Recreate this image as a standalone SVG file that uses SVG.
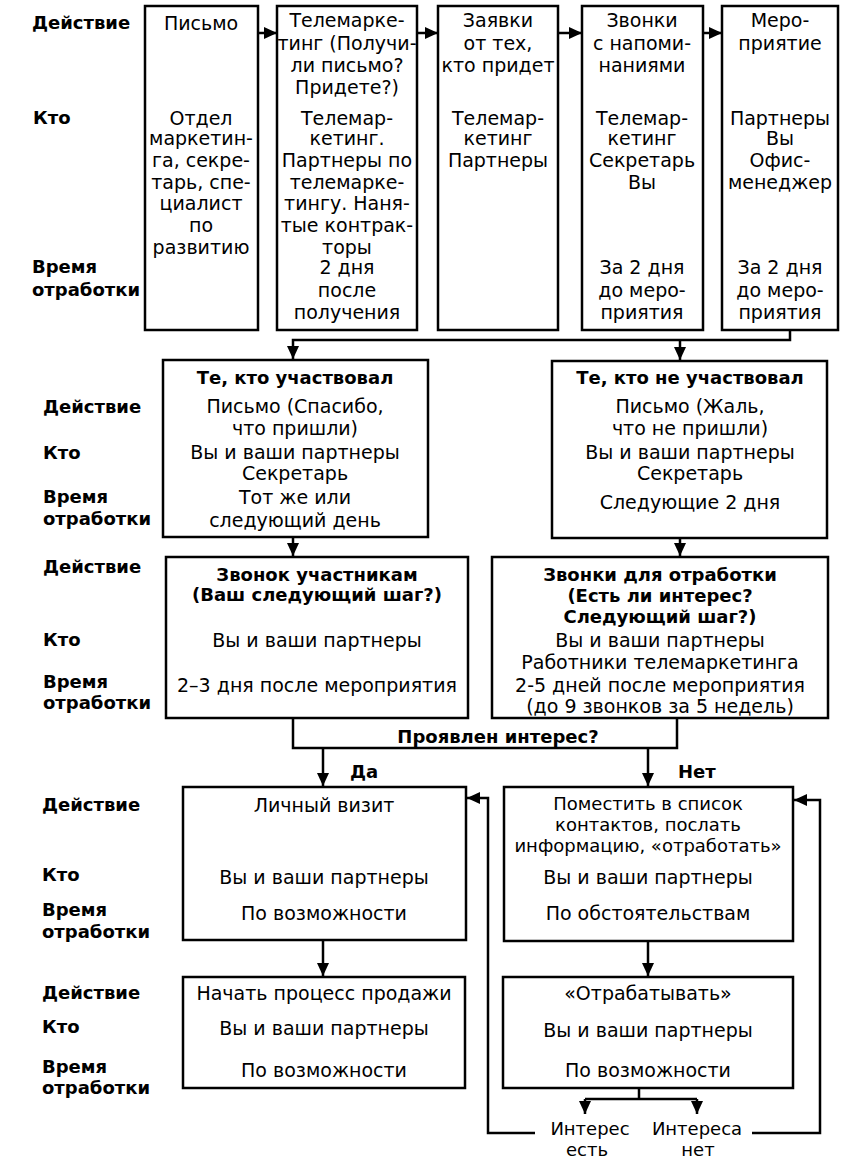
<svg xmlns="http://www.w3.org/2000/svg" width="841" height="1158" viewBox="0 0 841 1158">
<style>
text{font-family:"DejaVu Sans","Liberation Sans",sans-serif;fill:#000}
.t{font-size:19px;text-anchor:middle}
.s{font-size:18px;text-anchor:middle}
.b{font-size:18px;font-weight:bold;text-anchor:middle}
.l{font-size:18px;font-weight:bold}
.n{font-size:18px;font-weight:bold}
rect{fill:#fff;stroke:#000;stroke-width:2.5}
.c path{fill:none;stroke:#000;stroke-width:2.5}
</style>
<defs>
<marker id="a" markerUnits="userSpaceOnUse" markerWidth="14" markerHeight="14" refX="13" refY="6" orient="auto">
<path d="M0,0 L13,6 L0,12 z" fill="#000"/>
</marker>
</defs>
<rect x="0" y="0" width="841" height="1158" style="stroke:none"/>

<g id="labels">
<text class="l" x="32" y="29">Действие</text>
<text class="l" x="33" y="124">Кто</text>
<text class="l" x="32" y="273">Время</text>
<text class="l" x="32" y="296">отработки</text>
<text class="l" x="43" y="413">Действие</text>
<text class="l" x="43" y="459">Кто</text>
<text class="l" x="43" y="503">Время</text>
<text class="l" x="43" y="525">отработки</text>
<text class="l" x="43" y="573">Действие</text>
<text class="l" x="43" y="646">Кто</text>
<text class="l" x="43" y="688">Время</text>
<text class="l" x="43" y="709">отработки</text>
<text class="l" x="42" y="811">Действие</text>
<text class="l" x="42" y="881">Кто</text>
<text class="l" x="42" y="916">Время</text>
<text class="l" x="42" y="938">отработки</text>
<text class="l" x="42" y="999">Действие</text>
<text class="l" x="42" y="1033">Кто</text>
<text class="l" x="42" y="1073">Время</text>
<text class="l" x="42" y="1094">отработки</text>
</g>

<g id="n1">
<rect x="145" y="6" width="113" height="324"/>
<text class="t" x="201" y="30">Письмо</text>
<text class="t" x="201" y="125">Отдел</text>
<text class="t" x="201" y="145">маркетин-</text>
<text class="t" x="201" y="167">га, секре-</text>
<text class="t" x="201" y="189">тарь, спе-</text>
<text class="t" x="201" y="210">циалист</text>
<text class="t" x="201" y="232">по</text>
<text class="t" x="201" y="254">развитию</text>
</g>
<g id="n2">
<rect x="277" y="6" width="140" height="324"/>
<text class="t" x="347" y="27">Телемарке-</text>
<text class="t" x="347" y="50">тинг (Получи-</text>
<text class="t" x="347" y="72">ли письмо?</text>
<text class="t" x="347" y="94">Придете?)</text>
<text class="t" x="347" y="125">Телемар-</text>
<text class="t" x="347" y="145">кетинг.</text>
<text class="t" x="347" y="167">Партнеры по</text>
<text class="t" x="347" y="189">телемарке-</text>
<text class="t" x="347" y="210">тингу. Наня-</text>
<text class="t" x="347" y="232">тые контрак-</text>
<text class="t" x="347" y="254">торы</text>
<text class="t" x="347" y="274">2 дня</text>
<text class="t" x="347" y="297">после</text>
<text class="t" x="347" y="319">получения</text>
</g>
<g id="n3">
<rect x="438" y="6" width="120" height="324"/>
<text class="t" x="498" y="27">Заявки</text>
<text class="t" x="498" y="50">от тех,</text>
<text class="t" x="498" y="72">кто придет</text>
<text class="t" x="498" y="125">Телемар-</text>
<text class="t" x="498" y="145">кетинг</text>
<text class="t" x="498" y="167">Партнеры</text>
</g>
<g id="n4">
<rect x="582" y="6" width="121" height="324"/>
<text class="t" x="642" y="27">Звонки</text>
<text class="t" x="642" y="50">с напоми-</text>
<text class="t" x="642" y="72">наниями</text>
<text class="t" x="642" y="125">Телемар-</text>
<text class="t" x="642" y="145">кетинг</text>
<text class="t" x="642" y="167">Секретарь</text>
<text class="t" x="642" y="189">Вы</text>
<text class="t" x="642" y="274">За 2 дня</text>
<text class="t" x="642" y="297">до меро-</text>
<text class="t" x="642" y="319">приятия</text>
</g>
<g id="n5">
<rect x="722" y="6" width="116" height="324"/>
<text class="t" x="780" y="27">Меро-</text>
<text class="t" x="780" y="50">приятие</text>
<text class="t" x="780" y="125">Партнеры</text>
<text class="t" x="780" y="145">Вы</text>
<text class="t" x="780" y="167">Офис-</text>
<text class="t" x="780" y="189">менеджер</text>
<text class="t" x="780" y="274">За 2 дня</text>
<text class="t" x="780" y="297">до меро-</text>
<text class="t" x="780" y="319">приятия</text>
</g>

<g id="n6">
<rect x="163" y="360" width="265" height="177"/>
<text class="b" x="295" y="384">Те, кто участвовал</text>
<text class="t" x="295" y="413">Письмо (Спасибо,</text>
<text class="t" x="295" y="435">что пришли)</text>
<text class="t" x="295" y="459">Вы и ваши партнеры</text>
<text class="t" x="295" y="480">Секретарь</text>
<text class="t" x="295" y="504">Тот же или</text>
<text class="t" x="295" y="527">следующий день</text>
</g>
<g id="n7">
<rect x="552" y="361" width="275" height="177"/>
<text class="b" x="690" y="384">Те, кто не участвовал</text>
<text class="t" x="690" y="413">Письмо (Жаль,</text>
<text class="t" x="690" y="435">что не пришли)</text>
<text class="t" x="690" y="459">Вы и ваши партнеры</text>
<text class="t" x="690" y="480">Секретарь</text>
<text class="t" x="690" y="509">Следующие 2 дня</text>
</g>

<g id="n8">
<rect x="166" y="557" width="302" height="161"/>
<text class="b" x="317" y="581">Звонок участникам</text>
<text class="b" x="317" y="601">(Ваш следующий шаг?)</text>
<text class="t" x="317" y="647">Вы и ваши партнеры</text>
<text class="t" x="317" y="692">2–3 дня после мероприятия</text>
</g>
<g id="n9">
<rect x="492" y="557" width="336" height="161"/>
<text class="b" x="660" y="581">Звонки для отработки</text>
<text class="b" x="660" y="602">(Есть ли интерес?</text>
<text class="b" x="660" y="623">Следующий шаг?)</text>
<text class="t" x="660" y="647">Вы и ваши партнеры</text>
<text class="t" x="660" y="669">Работники телемаркетинга</text>
<text class="t" x="660" y="692">2-5 дней после мероприятия</text>
<text class="t" x="660" y="713">(до 9 звонков за 5 недель)</text>
</g>

<g id="n10">
<rect x="183" y="787" width="283" height="153"/>
<text class="t" x="324" y="812">Личный визит</text>
<text class="t" x="324" y="884">Вы и ваши партнеры</text>
<text class="t" x="324" y="920">По возможности</text>
</g>
<g id="n11">
<rect x="504" y="787" width="289" height="154"/>
<text class="s" x="648" y="810">Поместить в список</text>
<text class="s" x="648" y="831">контактов, послать</text>
<text class="s" x="648" y="852">информацию, «отработать»</text>
<text class="t" x="648" y="884">Вы и ваши партнеры</text>
<text class="t" x="648" y="920">По обстоятельствам</text>
</g>

<g id="n12">
<rect x="183" y="977" width="282" height="111"/>
<text class="t" x="324" y="1000">Начать процесс продажи</text>
<text class="t" x="324" y="1035">Вы и ваши партнеры</text>
<text class="t" x="324" y="1077">По возможности</text>
</g>
<g id="n13">
<rect x="503" y="977" width="290" height="111"/>
<text class="t" x="648" y="1000">«Отрабатывать»</text>
<text class="t" x="648" y="1037">Вы и ваши партнеры</text>
<text class="t" x="648" y="1077">По возможности</text>
</g>

<g id="connectors" class="c">
<path d="M258,33 H277" marker-end="url(#a)"/>
<path d="M417,33 H438" marker-end="url(#a)"/>
<path d="M558,33 H582" marker-end="url(#a)"/>
<path d="M703,33 H722" marker-end="url(#a)"/>
<path d="M790,330 V340 H293 V359" marker-end="url(#a)"/>
<path d="M680,340 V360" marker-end="url(#a)"/>
<path d="M293,537 V556" marker-end="url(#a)"/>
<path d="M680,538 V556" marker-end="url(#a)"/>
<path d="M293,718 V748 H677 V718"/>
<path d="M323,748 V786" marker-end="url(#a)"/>
<path d="M648,748 V786" marker-end="url(#a)"/>
<path d="M323,940 V976" marker-end="url(#a)"/>
<path d="M648,941 V976" marker-end="url(#a)"/>
<path d="M639,1088 V1099"/>
<path d="M585,1099 H697"/>
<path d="M585,1099 V1114" marker-end="url(#a)"/>
<path d="M697,1099 V1114" marker-end="url(#a)"/>
<path d="M535,1133 H488 V798 H467" marker-end="url(#a)"/>
<path d="M752,1133 H820 V800 H794" marker-end="url(#a)"/>
</g>

<g id="texts">
<text class="b" x="498" y="743">Проявлен интерес?</text>
<text class="n" x="350" y="778">Да</text>
<text class="n" x="678" y="778">Нет</text>
<text class="s" x="590" y="1135">Интерес</text>
<text class="s" x="587" y="1156">есть</text>
<text class="s" x="697" y="1135">Интереса</text>
<text class="s" x="698" y="1156">нет</text>
</g>
</svg>
